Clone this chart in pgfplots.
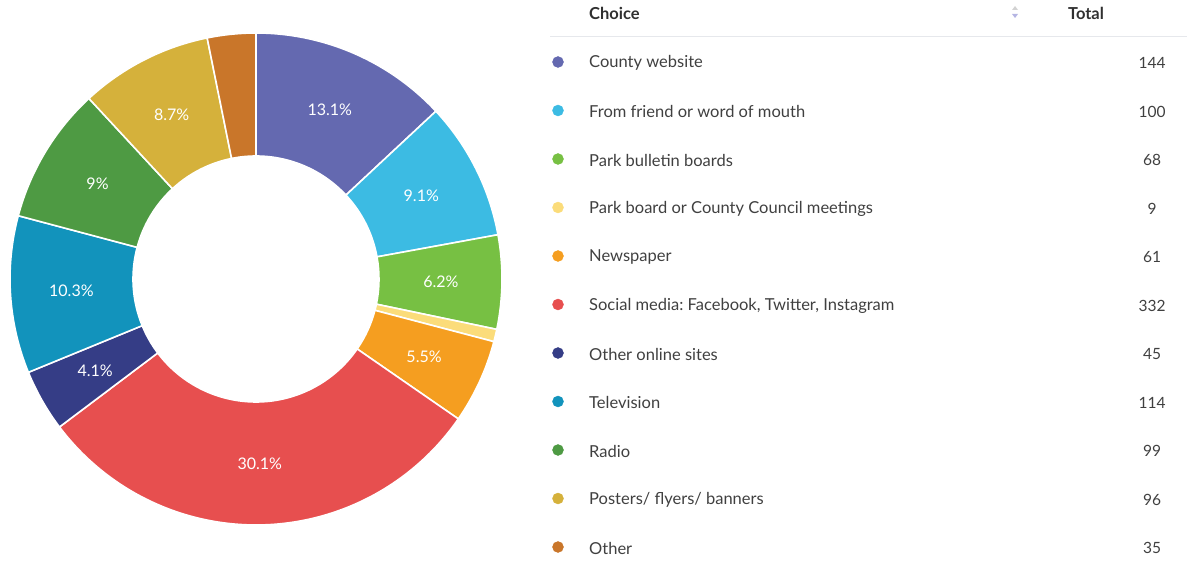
\documentclass[border=0pt]{standalone}
\usepackage{fontspec}
\setmainfont{Lato}
\usepackage{pgfplots}
\usepackage{pgfplotstable}
\pgfplotsset{compat=1.18}
\frenchspacing

\definecolor{cWeb}{HTML}{6469B0}
\definecolor{cFriend}{HTML}{3CBBE3}
\definecolor{cBoard}{HTML}{77C043}
\definecolor{cMeet}{HTML}{FBDC7A}
\definecolor{cNews}{HTML}{F59E20}
\definecolor{cSocial}{HTML}{E74F4F}
\definecolor{cOnline}{HTML}{353D86}
\definecolor{cTV}{HTML}{1293BC}
\definecolor{cRadio}{HTML}{4E9A43}
\definecolor{cPoster}{HTML}{D5B13B}
\definecolor{cOther}{HTML}{C9762A}
\definecolor{txt}{HTML}{404040}
\definecolor{head}{HTML}{303030}
\definecolor{rule}{HTML}{E6E8EC}

% choices in the order they appear, clockwise from 12 o'clock
\pgfplotstableread[col sep=semicolon]{
label;total;col
County website;144;cWeb
From friend or word of mouth;100;cFriend
Park bulletin boards;68;cBoard
Park board or County Council meetings;9;cMeet
Newspaper;61;cNews
Social media: Facebook, Twitter, Instagram;332;cSocial
Other online sites;45;cOnline
Television;114;cTV
Radio;99;cRadio
Posters/ flyers/ banners;96;cPoster
Other;35;cOther
}\choices

\begin{document}
\begin{tikzpicture}[font=\fontsize{16.5}{19}\selectfont]
\begin{axis}[
  hide axis, scale only axis, clip=false,
  width=1192pt, height=561pt,
  xmin=0, xmax=1192, ymin=0, ymax=561, y dir=reverse,
  /pgf/number format/assume math mode=true,
]
\addplot[draw=none] coordinates {(0,0) (1192,561)};

% ---- table header ----
\node[anchor=west, inner sep=0pt, text=head, font=\fontsize{16.5}{19}\selectfont\bfseries] at (axis cs:589,13) {Choice};
\node[text=head, font=\fontsize{16.5}{19}\selectfont\bfseries] at (axis cs:1086,13) {Total};
\fill[gray!35] (axis cs:1012,10) -- (axis cs:1018,10) -- (axis cs:1015,6) -- cycle;
\fill[gray!55!blue!40] (axis cs:1012,14) -- (axis cs:1018,14) -- (axis cs:1015,18) -- cycle;
\draw[rule, line width=1pt] (axis cs:550,37) -- (axis cs:1187,37);

\pgfplotstablegetrowsof{\choices}
\pgfmathtruncatemacro\lastrow{\pgfplotsretval-1}
\def\tot{0}
\pgfplotsforeachungrouped \i in {0,...,\lastrow}{%
  \pgfplotstablegetelem{\i}{total}\of\choices
  \pgfmathsetmacro\tot{\tot+\pgfplotsretval}%
}
\def\angA{90}
\pgfplotsforeachungrouped \i in {0,...,\lastrow}{%
  \pgfplotstablegetelem{\i}{total}\of\choices \let\val\pgfplotsretval
  \pgfplotstablegetelem{\i}{col}\of\choices \let\col\pgfplotsretval
  \pgfplotstablegetelem{\i}{label}\of\choices \let\lab\pgfplotsretval
  \pgfmathsetmacro\frac{\val/\tot}%
  \pgfmathsetmacro\angB{\angA-360*\frac}%
  \pgfmathsetmacro\angM{(\angA+\angB)/2}%
  \pgfmathsetmacro\pct{100*\frac}%
  \pgfmathsetmacro\rowy{62+48.5*\i}%
  \edef\doit{%
    \noexpand\filldraw[fill=\col, draw=white, line width=1.6pt]
      ([shift={(\angA:246pt)}]axis cs:256,279) arc[start angle=\angA, end angle=\angB, radius=246pt]
      -- ([shift={(\angB:123pt)}]axis cs:256,279) arc[start angle=\angB, end angle=\angA, radius=123pt] -- cycle;
    \noexpand\addplot[only marks, mark=*, mark size=5.5pt, color=\col] coordinates {(558,\rowy)};
    \noexpand\node[anchor=west, inner sep=0pt, text=txt] at (axis cs:589,\rowy+1) {\lab};
    \noexpand\node[text=txt, font=\noexpand\fontsize{15.5}{18}\noexpand\selectfont] at (axis cs:1152,\rowy+1) {\val};
  }\doit
  \ifdim\pct pt>4pt
    \edef\doit{\noexpand\node[text=white, font=\noexpand\fontsize{16}{18}\noexpand\selectfont]
      at ([shift={(\angM:185pt)}]axis cs:256,279)
      {\noexpand\pgfmathprintnumber[fixed,precision=1]{\pct}\noexpand\%};}\doit
  \fi
  \let\angA\angB
}
\end{axis}
\end{tikzpicture}
\end{document}
